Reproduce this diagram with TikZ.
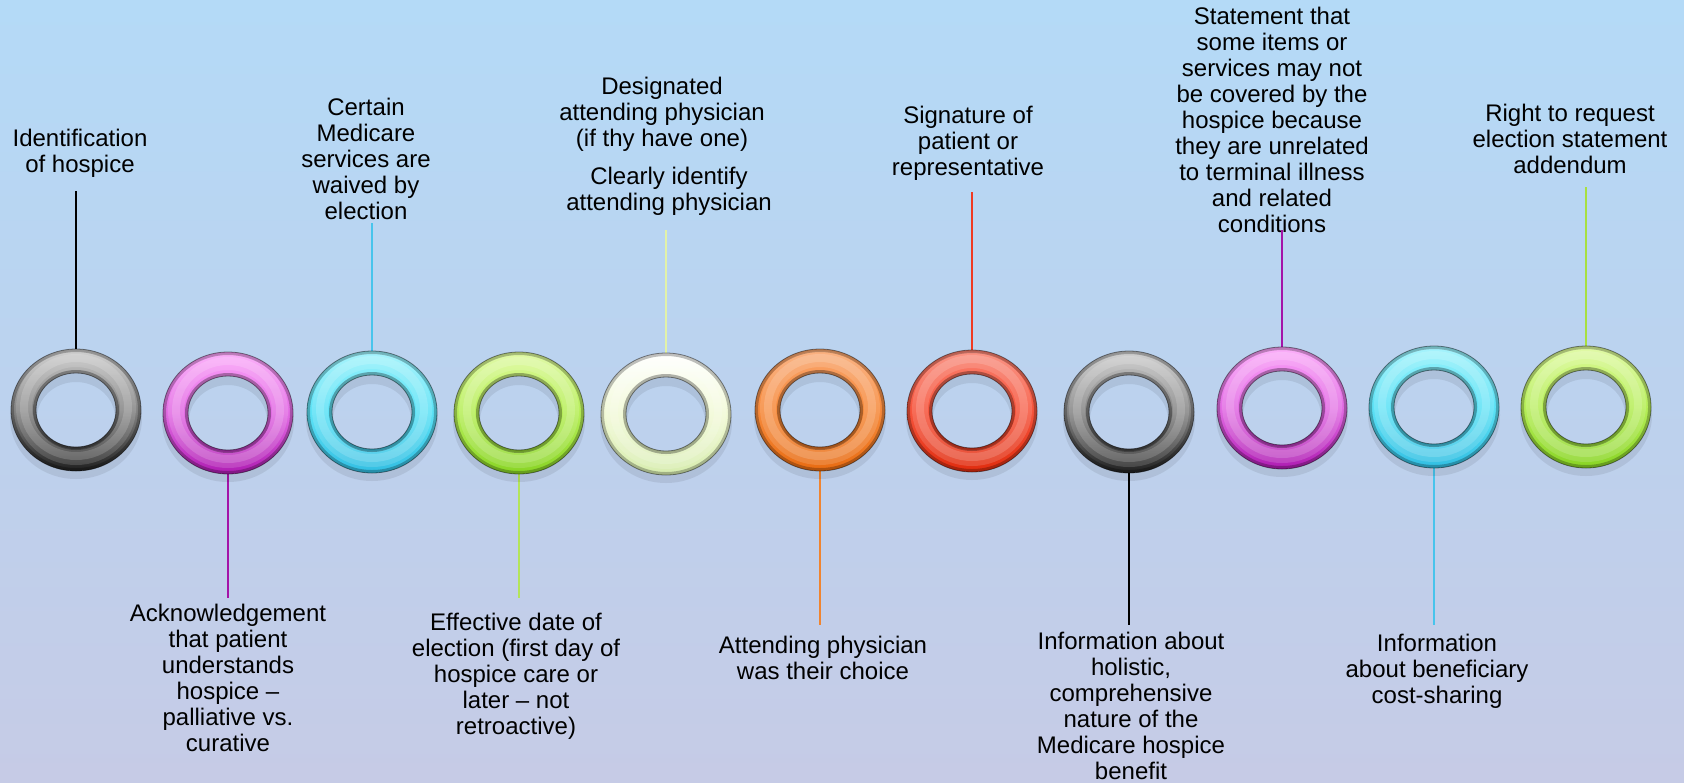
\documentclass[tikz,border=0pt]{standalone}
\usepackage{fontspec}
\setmainfont{Liberation Sans}
\usetikzlibrary{shapes.geometric}
\definecolor{bgtop}{HTML}{B4DAF7}
\definecolor{bgmid}{HTML}{BCD2EE}
\definecolor{bgbot}{HTML}{C6CBE6}
\definecolor{lnpurple}{HTML}{A414A8}
\definecolor{lncyan}{HTML}{48C4EC}
\definecolor{lnlime}{HTML}{B4E45A}
\definecolor{lnpale}{HTML}{E2F2A8}
\definecolor{lnorange}{HTML}{F08430}
\definecolor{lnred}{HTML}{F03A22}
\definecolor{lnlime2}{HTML}{A8E040}
% ring palettes
\definecolor{gyT}{HTML}{C8C8C8}\definecolor{gyM}{HTML}{858585}\definecolor{gyB}{HTML}{202020}
\definecolor{mgT}{HTML}{FBA2F9}\definecolor{mgM}{HTML}{E26CE4}\definecolor{mgB}{HTML}{AE1CB2}
\definecolor{cyT}{HTML}{98F2FC}\definecolor{cyM}{HTML}{5CE2F6}\definecolor{cyB}{HTML}{32BEE2}
\definecolor{lmT}{HTML}{DCFA98}\definecolor{lmM}{HTML}{B6EE58}\definecolor{lmB}{HTML}{88D424}
\definecolor{plT}{HTML}{FFFFFF}\definecolor{plM}{HTML}{F2FAD6}\definecolor{plB}{HTML}{D6ECAE}
\definecolor{orT}{HTML}{FAA66E}\definecolor{orM}{HTML}{F68A3C}\definecolor{orB}{HTML}{E86C12}
\definecolor{rdT}{HTML}{FA8270}\definecolor{rdM}{HTML}{F6543C}\definecolor{rdB}{HTML}{E02C0E}
\newcommand{\torus}[4]{%
\begin{scope}[shift={(#1.center)}]
 \fill[black,opacity=0.08,even odd rule] (0,8) ellipse [x radius=66,y radius=61] (0,8) ellipse [x radius=39,y radius=36];
 \shade[even odd rule,top color=#2,bottom color=#4,middle color=#3] (0,0) ellipse [x radius=65,y radius=61] (0,0) ellipse [x radius=40,y radius=37];
 \begin{scope}[even odd rule]
  \clip (0,0) ellipse [x radius=65,y radius=61] (0,0) ellipse [x radius=40,y radius=37];
  \draw[white,opacity=0.14,line width=8pt] (0,-2) ellipse [x radius=52,y radius=49];
  \draw[white,opacity=0.16,line width=4pt] (0,-3) ellipse [x radius=52,y radius=49];
  \draw[black,opacity=0.25,line width=3pt] (0,0) ellipse [x radius=65,y radius=61];
  \draw[black,opacity=0.30,line width=3pt] (0,0) ellipse [x radius=40,y radius=37];
 \end{scope}
 \draw[black,opacity=0.45,line width=0.4pt] (0,0) ellipse [x radius=65,y radius=61] (0,0) ellipse [x radius=40,y radius=37];
\end{scope}}
\tikzset{
  ringnode/.style={ellipse,minimum width=65pt,minimum height=61pt,inner sep=0pt},
  lbl/.style={align=center,inner sep=0pt,anchor=base,font=\fontsize{12}{13}\selectfont,text=black},
  conn/.style={line width=1pt}
}
\begin{document}
\begin{tikzpicture}[x=0.5pt,y=-0.5pt]
\useasboundingbox (0,0) rectangle (1684,782);
\shade[top color=bgtop,bottom color=bgbot,middle color=bgmid] (0,0) rectangle (1684,782);

% ring anchors
\node[ringnode] (r1) at (76,410) {};
\node[ringnode] (r2) at (228,413) {};
\node[ringnode] (r3) at (372,412) {};
\node[ringnode] (r4) at (519,413) {};
\node[ringnode] (r5) at (666,414) {};
\node[ringnode] (r6) at (820,410) {};
\node[ringnode] (r7) at (972,411) {};
\node[ringnode] (r8) at (1129,412) {};
\node[ringnode] (r9) at (1282,408) {};
\node[ringnode] (r10) at (1434,407) {};
\node[ringnode] (r11) at (1586,407) {};

% labels (anchor = baseline of last line)
\node[lbl] (t1) at (80,172) {Identification\\of hospice};
\node[lbl] (t2) at (228,751) {Acknowledgement\\that patient\\understands\\hospice –\\palliative vs.\\curative};
\node[lbl] (t3) at (366,219) {Certain\\Medicare\\services are\\waived by\\election};
\node[lbl] (t4) at (516,734) {Effective date of\\election (first day of\\hospice care or\\later – not\\retroactive)};
\node[lbl] (t5a) at (662,146) {Designated\\attending physician\\(if thy have one)};
\node[lbl] (t5b) at (669,210) {Clearly identify\\attending physician};
\node[lbl] (t6) at (823,679) {Attending physician\\was their choice};
\node[lbl] (t7) at (968,175) {Signature of\\patient or\\representative};
\node[lbl] (t8) at (1131,779) {Information about\\holistic,\\comprehensive\\nature of the\\Medicare hospice\\benefit};
\node[lbl] (t9) at (1272,232) {Statement that\\some items or\\services may not\\be covered by the\\hospice because\\they are unrelated\\to terminal illness\\and related\\conditions};
\node[lbl] (t10) at (1437,703) {Information\\about beneficiary\\cost-sharing};
\node[lbl] (t11) at (1570,173) {Right to request\\election statement\\addendum};

% connector ends
\coordinate (e1) at (76,191);
\coordinate (e2) at (228,598);
\coordinate (e3) at (372,223);
\coordinate (e4) at (519,598);
\coordinate (e5) at (666,230);
\coordinate (e6) at (820,625);
\coordinate (e7) at (972,192);
\coordinate (e8) at (1129,625);
\coordinate (e9) at (1282,230);
\coordinate (e10) at (1434,625);
\coordinate (e11) at (1586,187);

\draw[conn,black] (e1) -- (r1.north);
\draw[conn,lnpurple] (r2.south) -- (e2);
\draw[conn,lncyan] (e3) -- (r3.north);
\draw[conn,lnlime] (r4.south) -- (e4);
\draw[conn,lnpale] (e5) -- (r5.north);
\draw[conn,lnorange] (r6.south) -- (e6);
\draw[conn,lnred] (e7) -- (r7.north);
\draw[conn,black] (r8.south) -- (e8);
\draw[conn,lnpurple] (e9) -- (r9.north);
\draw[conn,lncyan] (r10.south) -- (e10);
\draw[conn,lnlime2] (e11) -- (r11.north);

% rings
\torus{r1}{gyT}{gyM}{gyB}
\torus{r2}{mgT}{mgM}{mgB}
\torus{r3}{cyT}{cyM}{cyB}
\torus{r4}{lmT}{lmM}{lmB}
\torus{r5}{plT}{plM}{plB}
\torus{r6}{orT}{orM}{orB}
\torus{r7}{rdT}{rdM}{rdB}
\torus{r8}{gyT}{gyM}{gyB}
\torus{r9}{mgT}{mgM}{mgB}
\torus{r10}{cyT}{cyM}{cyB}
\torus{r11}{lmT}{lmM}{lmB}
\end{tikzpicture}
\end{document}
